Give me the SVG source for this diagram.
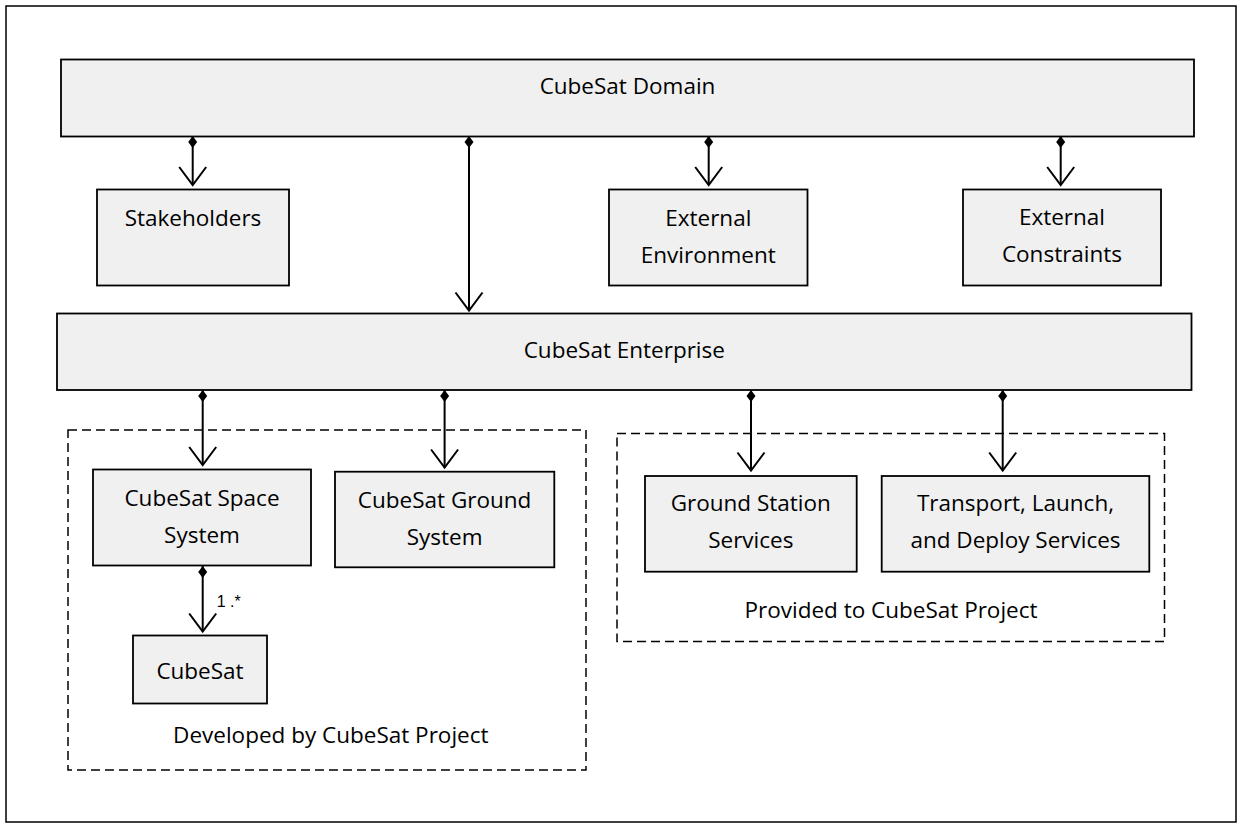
<svg xmlns="http://www.w3.org/2000/svg" width="1241" height="827" viewBox="0 0 1241 827">
<style>
.frame{fill:#fff;stroke:#000;stroke-width:1.5}
.box{fill:#f0f0f0;stroke:#000;stroke-width:1.8}
.grp{fill:none;stroke:#000;stroke-width:1.5;stroke-dasharray:9 5}
.t{font-family:"Open Sans","Noto Sans",sans-serif;font-size:22.5px;fill:#000;text-anchor:middle}
.lbl{font-family:"Liberation Sans",Arial,sans-serif;font-size:16px;fill:#000}
.c{fill:none;stroke:#000;stroke-width:2;marker-start:url(#dia);marker-end:url(#open)}
</style>
<defs>
<marker id="dia" markerUnits="userSpaceOnUse" viewBox="-1 -6 15 12" markerWidth="15" markerHeight="12" refX="0" refY="0" orient="auto">
<path d="M0,0 L6,-4.5 L12,0 L6,4.5 Z" fill="#000"/>
</marker>
<marker id="open" markerUnits="userSpaceOnUse" viewBox="-21 -17 24 34" markerWidth="24" markerHeight="34" refX="0" refY="0" orient="auto">
<path d="M-18,-13.5 L0,0 L-18,13.5" fill="none" stroke="#000" stroke-width="2"/>
</marker>
</defs>
<rect class="frame" x="6" y="6" width="1230" height="816"/>
<g id="group-developed">
<rect class="grp" x="68" y="430" width="518" height="340"/>
<text class="t" x="330.8" y="743.3">Developed by CubeSat Project</text>
</g>
<g id="group-provided">
<rect class="grp" x="617" y="433.5" width="547.5" height="208"/>
<text class="t" x="891" y="618.3">Provided to CubeSat Project</text>
</g>
<g id="connectors">
<path class="c" d="M192.7,136 V185"/>
<path class="c" d="M469,136 V310.5"/>
<path class="c" d="M708.7,136 V185"/>
<path class="c" d="M1060.7,136 V185"/>
<path class="c" d="M202.7,390 V465"/>
<path class="c" d="M444.6,390 V467.5"/>
<path class="c" d="M751,390 V470.5"/>
<path class="c" d="M1002.7,390 V470.5"/>
<path class="c" d="M202.7,566 V631.5"/>
<text class="lbl" x="216.7" y="606.7">1 .*</text>
</g>
<g id="domain">
<rect class="box" x="61" y="59.5" width="1133" height="77"/>
<text class="t" x="627.5" y="94.3">CubeSat Domain</text>
</g>
<g id="stakeholders">
<rect class="box" x="97" y="189.5" width="192" height="96"/>
<text class="t" x="193" y="225.5">Stakeholders</text>
</g>
<g id="external-environment">
<rect class="box" x="609" y="189.5" width="198.5" height="96"/>
<text class="t" x="708.3" y="225.5">External</text>
<text class="t" x="708.3" y="262.5">Environment</text>
</g>
<g id="external-constraints">
<rect class="box" x="963" y="189.5" width="198" height="96"/>
<text class="t" x="1062" y="225">External</text>
<text class="t" x="1062" y="262">Constraints</text>
</g>
<g id="enterprise">
<rect class="box" x="57" y="313.5" width="1134.5" height="76.5"/>
<text class="t" x="624.3" y="357.7">CubeSat Enterprise</text>
</g>
<g id="space-system">
<rect class="box" x="93" y="469.5" width="218" height="96"/>
<text class="t" x="202" y="506">CubeSat Space</text>
<text class="t" x="202" y="542.7">System</text>
</g>
<g id="ground-system">
<rect class="box" x="335" y="471.7" width="219.3" height="95.6"/>
<text class="t" x="444.6" y="508">CubeSat Ground</text>
<text class="t" x="444.6" y="544.5">System</text>
</g>
<g id="cubesat">
<rect class="box" x="133" y="635.5" width="134" height="68"/>
<text class="t" x="200" y="679">CubeSat</text>
</g>
<g id="ground-station">
<rect class="box" x="645" y="476" width="211.7" height="95.7"/>
<text class="t" x="750.8" y="511">Ground Station</text>
<text class="t" x="750.8" y="548.3">Services</text>
</g>
<g id="transport">
<rect class="box" x="881.7" y="476" width="267.6" height="95.7"/>
<text class="t" x="1015.5" y="511">Transport, Launch,</text>
<text class="t" x="1015.5" y="548.3">and Deploy Services</text>
</g>
</svg>
